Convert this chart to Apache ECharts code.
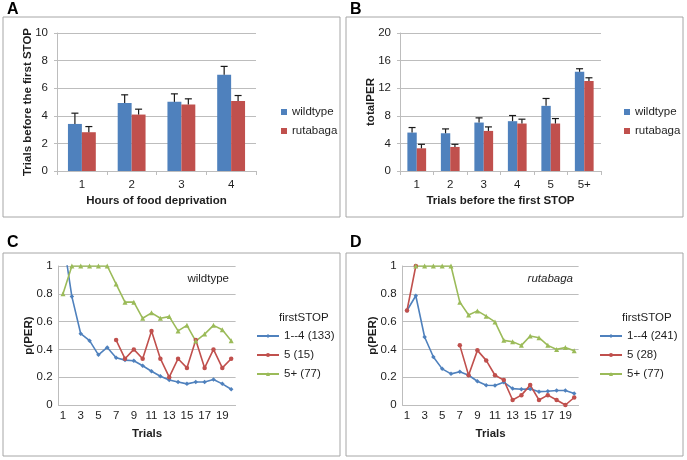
<!DOCTYPE html>
<html>
<head>
<meta charset="utf-8">
<script src="https://cdn.jsdelivr.net/npm/echarts@6/dist/echarts.min.js"></script>
<style>
html,body{margin:0;padding:0;background:#fff;}
#chart{width:687px;height:460px;}
</style>
</head>
<body>
<div id="chart"></div>
<script>
// ---------- Data ----------
const hoursCats = ['1', '2', '3', '4'];
const aWild = [3.41, 4.92, 5.01, 6.97];
const aWildSE = [0.78, 0.60, 0.58, 0.61];
const aRuta = [2.81, 4.09, 4.82, 5.08];
const aRutaSE = [0.41, 0.39, 0.41, 0.39];

const stopCats = ['1', '2', '3', '4', '5', '5+'];
const bWild = [5.57, 5.47, 7.02, 7.22, 9.44, 14.38];
const bWildSE = [0.73, 0.63, 0.68, 0.82, 1.07, 0.44];
const bRuta = [3.29, 3.49, 5.81, 6.88, 6.88, 13.03];
const bRutaSE = [0.58, 0.38, 0.58, 0.63, 0.72, 0.48];

const trials = ['1','2','3','4','5','6','7','8','9','10','11','12','13','14','15','16','17','18','19','20'];

const cBlue = [1.2, 0.78, 0.513, 0.463, 0.361, 0.414, 0.34, 0.323, 0.318, 0.282, 0.243, 0.207, 0.18, 0.166, 0.152, 0.166, 0.166, 0.183, 0.152, 0.113];
const cRed = [null, null, null, null, null, null, 0.467, 0.333, 0.4, 0.333, 0.533, 0.333, 0.2, 0.333, 0.267, 0.467, 0.267, 0.4, 0.267, 0.333];
const cGreen = [0.8, 1, 1, 1, 1, 1, 0.87, 0.74, 0.74, 0.624, 0.663, 0.624, 0.636, 0.533, 0.573, 0.46, 0.51, 0.573, 0.542, 0.463];

const dBlue = [0.68, 0.786, 0.489, 0.345, 0.26, 0.224, 0.239, 0.214, 0.171, 0.142, 0.14, 0.164, 0.118, 0.113, 0.116, 0.096, 0.099, 0.104, 0.104, 0.082];
const dRed = [0.68, 1, null, null, null, null, 0.429, 0.214, 0.393, 0.321, 0.214, 0.179, 0.036, 0.071, 0.143, 0.036, 0.071, 0.036, 0, 0.054];
const dGreen = [null, 1, 1, 1, 1, 1, 0.74, 0.648, 0.677, 0.639, 0.598, 0.465, 0.455, 0.429, 0.496, 0.484, 0.429, 0.4, 0.414, 0.39];

const cNames = ['1--4 (133)', '5 (15)', '5+ (77)'];
const dNames = ['1--4 (241)', '5 (28)', '5+ (77)'];

// ---------- Styling ----------
const FONT = '"Liberation Sans", Arial, sans-serif';
const BLUE = '#4f81bd', RED = '#c0504d', GREEN = '#9bbb59';
const GRIDC = '#bdbdbd';
const TXT = '#1e1e1e';
const CAT_GAP = 0.44;

function errRenderer(sign) {
  return function (params, api) {
    const x = api.value(0), m = api.value(1), se = api.value(2);
    const base = api.coord([x, m]);
    const top = api.coord([x, m + se]);
    const cw = api.size([1, 0])[0];
    const cx = base[0] + sign * cw * (1 - CAT_GAP) / 4;
    return {
      type: 'group',
      children: [
        { type: 'line', shape: { x1: cx, y1: base[1], x2: cx, y2: top[1] }, style: { stroke: '#1a1a1a', lineWidth: 1.2 } },
        { type: 'line', shape: { x1: cx - 3.5, y1: top[1], x2: cx + 3.5, y2: top[1] }, style: { stroke: '#1a1a1a', lineWidth: 1.2 } }
      ]
    };
  };
}

function barYAxis(gi, max, interval, name, gap) {
  return {
    gridIndex: gi, type: 'value', min: 0, max: max, interval: interval,
    name: name, nameLocation: 'middle', nameGap: gap, nameRotate: 90, nameMoveOverlap: false,
    nameTextStyle: { fontFamily: FONT, fontWeight: 'bold', fontSize: 11.5, color: TXT },
    axisLine: { show: true, lineStyle: { color: GRIDC } },
    axisTick: { show: true, length: 3, lineStyle: { color: GRIDC } },
    axisLabel: { fontFamily: FONT, fontSize: 11.5, color: TXT, margin: 9 },
    splitLine: { lineStyle: { color: GRIDC } }
  };
}
function barXAxis(gi, cats, name) {
  return {
    gridIndex: gi, type: 'category', data: cats,
    name: name, nameLocation: 'middle', nameGap: 24, nameMoveOverlap: false,
    nameTextStyle: { fontFamily: FONT, fontWeight: 'bold', fontSize: 11.5, color: TXT },
    axisLine: { lineStyle: { color: GRIDC } },
    axisTick: { show: true, length: 4, lineStyle: { color: GRIDC } },
    axisLabel: { fontFamily: FONT, fontSize: 11.5, color: TXT, margin: 8 }
  };
}
function lineYAxis(gi) {
  return {
    gridIndex: gi, type: 'value', min: 0, max: 1, interval: 0.2,
    name: 'p(PER)', nameLocation: 'middle', nameGap: 24, nameRotate: 90, nameMoveOverlap: false,
    nameTextStyle: { fontFamily: FONT, fontWeight: 'bold', fontSize: 11.5, color: TXT },
    axisLine: { show: true, lineStyle: { color: GRIDC } },
    axisTick: { show: false },
    axisLabel: { fontFamily: FONT, fontSize: 11.5, color: TXT, margin: 6 },
    splitLine: { lineStyle: { color: GRIDC } }
  };
}
function lineXAxis(gi) {
  return {
    gridIndex: gi, type: 'category', data: trials, boundaryGap: true,
    name: 'Trials', nameLocation: 'middle', nameGap: 23, nameMoveOverlap: false,
    nameTextStyle: { fontFamily: FONT, fontWeight: 'bold', fontSize: 11.5, color: TXT },
    axisLine: { lineStyle: { color: GRIDC } },
    axisTick: { show: false },
    axisLabel: { fontFamily: FONT, fontSize: 11.5, color: TXT, margin: 5, interval: 1 }
  };
}
function barSeries(name, data, color, gi) {
  return {
    type: 'bar', name: name, data: data, xAxisIndex: gi, yAxisIndex: gi,
    barGap: '0%', barCategoryGap: (CAT_GAP * 100) + '%',
    itemStyle: { color: color }, emphasis: { disabled: true }
  };
}
function errSeries(name, vals, se, sign, gi) {
  return {
    type: 'custom', name: name, xAxisIndex: gi, yAxisIndex: gi, z: 10,
    renderItem: errRenderer(sign),
    encode: { x: 0, y: 1 },
    data: vals.map((v, i) => [i, v, se[i]])
  };
}
function lineSeries(name, data, color, symbol, gi) {
  return {
    type: 'line', name: name, data: data, xAxisIndex: gi, yAxisIndex: gi,
    symbol: symbol, symbolSize: symbol === 'triangle' ? 5 : 4.5, showSymbol: true,
    itemStyle: { color: color }, lineStyle: { color: color, width: 1.6 },
    clip: true, connectNulls: false, emphasis: { disabled: true }
  };
}
function frame(x, y, w, h) {
  return { type: 'rect', shape: { x: x, y: y, width: w, height: h }, style: { fill: 'none', stroke: '#a6a6a6', lineWidth: 1 }, silent: true };
}
function label(t, x, y) {
  return { type: 'text', x: x, y: y, style: { text: t, fontFamily: FONT, fontWeight: 'bold', fontSize: 16, fill: '#000', textVerticalAlign: 'middle' } };
}

const legendText = { fontFamily: FONT, fontSize: 11.5, color: TXT };

const option = {
  animation: false,
  backgroundColor: '#fff',
  grid: [
    { left: 57, top: 33, width: 199, height: 138 },
    { left: 400, top: 33, width: 201, height: 138 },
    { left: 58.6, top: 266, width: 177, height: 139 },
    { left: 402.6, top: 266, width: 176, height: 139 }
  ],
  xAxis: [
    barXAxis(0, hoursCats, 'Hours of food deprivation'),
    barXAxis(1, stopCats, 'Trials before the first STOP'),
    lineXAxis(2),
    lineXAxis(3)
  ],
  yAxis: [
    barYAxis(0, 10, 2, 'Trials before the first STOP', 23),
    barYAxis(1, 20, 4, 'totalPER', 23),
    lineYAxis(2),
    lineYAxis(3)
  ],
  legend: [
    { data: ['wildtype', 'rutabaga'], orient: 'vertical', left: 276, top: 101, itemWidth: 6, itemHeight: 6, itemGap: 7, icon: 'rect', textStyle: legendText, selectedMode: false },
    { data: ['wildtype', 'rutabaga'], orient: 'vertical', left: 619, top: 101, itemWidth: 6, itemHeight: 6, itemGap: 7, icon: 'rect', textStyle: legendText, selectedMode: false },
    { data: cNames, orient: 'vertical', left: 251, top: 325, itemWidth: 22, itemHeight: 5, itemGap: 7, textStyle: legendText, selectedMode: false },
    { data: dNames, orient: 'vertical', left: 594, top: 325, itemWidth: 22, itemHeight: 5, itemGap: 7, textStyle: legendText, selectedMode: false }
  ],
  graphic: [
    frame(3, 17, 337, 200),
    frame(346, 17, 337, 200),
    frame(3, 253, 337, 203),
    frame(346, 253, 337, 203),
    label('A', 7, 10),
    label('B', 350, 10),
    label('C', 7, 243),
    label('D', 350, 243),
    { type: 'text', x: 229, y: 279, style: { text: 'wildtype', fontFamily: FONT, fontSize: 11.5, fill: TXT, textAlign: 'right', textVerticalAlign: 'middle' } },
    { type: 'text', x: 573, y: 279, style: { text: 'rutabaga', fontFamily: FONT, fontStyle: 'italic', fontSize: 11.5, fill: TXT, textAlign: 'right', textVerticalAlign: 'middle' } },
    { type: 'text', x: 279, y: 318, style: { text: 'firstSTOP', fontFamily: FONT, fontSize: 11.5, fill: TXT, textVerticalAlign: 'middle' } },
    { type: 'text', x: 622, y: 318, style: { text: 'firstSTOP', fontFamily: FONT, fontSize: 11.5, fill: TXT, textVerticalAlign: 'middle' } }
  ],
  series: [
    barSeries('wildtype', aWild, BLUE, 0),
    barSeries('rutabaga', aRuta, RED, 0),
    errSeries('errAw', aWild, aWildSE, -1, 0),
    errSeries('errAr', aRuta, aRutaSE, 1, 0),
    barSeries('wildtype', bWild, BLUE, 1),
    barSeries('rutabaga', bRuta, RED, 1),
    errSeries('errBw', bWild, bWildSE, -1, 1),
    errSeries('errBr', bRuta, bRutaSE, 1, 1),
    lineSeries(cNames[0], cBlue, BLUE, 'diamond', 2),
    lineSeries(cNames[1], cRed, RED, 'circle', 2),
    lineSeries(cNames[2], cGreen, GREEN, 'triangle', 2),
    lineSeries(dNames[0], dBlue, BLUE, 'diamond', 3),
    lineSeries(dNames[1], dRed, RED, 'circle', 3),
    lineSeries(dNames[2], dGreen, GREEN, 'triangle', 3)
  ]
};

const chart = echarts.init(document.getElementById('chart'), null, { renderer: 'canvas' });
chart.setOption(option);
</script>
</body>
</html>
